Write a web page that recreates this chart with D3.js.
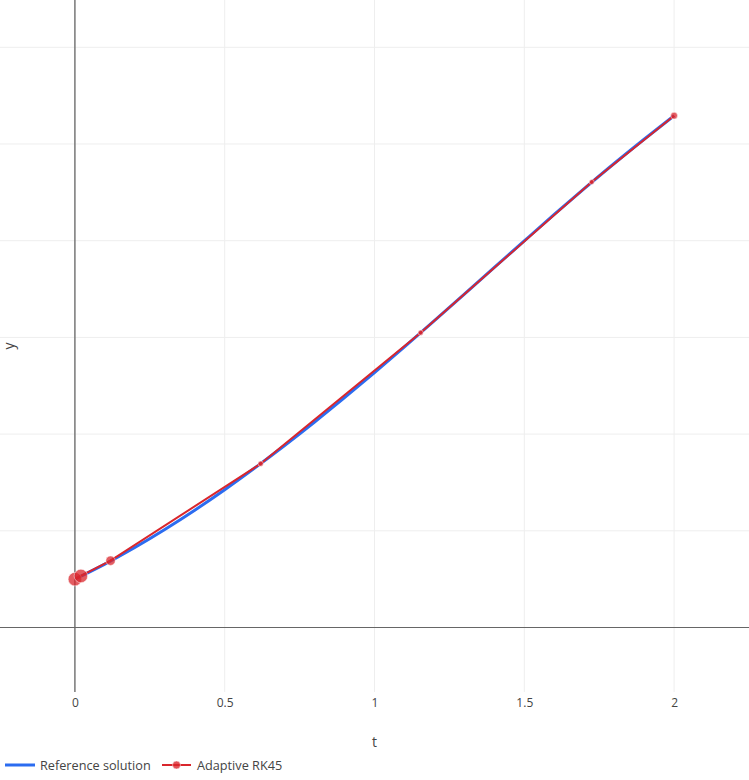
<!DOCTYPE html>
<html><head><meta charset="utf-8">
<script src="https://cdn.jsdelivr.net/npm/d3@7"></script>
<style>html,body{margin:0;padding:0;background:#fff}svg{display:block}text{font-family:"Open Sans",sans-serif}</style>
</head><body>
<script>
// Reference solution (dense)
const tRef = [0,0.1,0.2,0.3,0.4,0.5,0.6,0.7,0.8,0.9,1.0,1.1,1.2,1.3,1.4,1.5,1.6,1.7,1.8,1.9,2.0];
const yRef = [0.5,0.656,0.828,1.014,1.213,1.425,1.649,1.882,2.125,2.377,2.636,2.902,3.173,3.447,3.723,3.998,4.271,4.538,4.798,5.049,5.293];
// Adaptive RK45 accepted steps
const tRK = [0,0.02,0.119,0.62,1.154,1.725,2.0];
const yRK = [0.5,0.533,0.691,1.694,3.049,4.607,5.293];
const xTicks = [0,0.5,1,1.5,2];
const yTicks = [0,1,2,3,4,5,6];
const seriesNames = ["Reference solution","Adaptive RK45"];

const W = 749, H = 780;
const plot = {left:0, right:749, top:0, bottom:692};
const blue = "#2b6cf0", red = "#d9262c";

const svg = d3.select("body").append("svg").attr("width",W).attr("height",H);
const x = d3.scaleLinear().domain([-0.25,2.25]).range([plot.left,plot.right]);
const y = d3.scaleLinear().domain([-0.667,6.489]).range([plot.bottom,plot.top]);

// grid
const g = svg.append("g");
g.selectAll(".gx").data(xTicks.filter(d=>d!==0)).enter().append("line")
  .attr("x1",d=>x(d)).attr("x2",d=>x(d)).attr("y1",plot.top).attr("y2",plot.bottom)
  .attr("stroke","#eeeeee").attr("stroke-width",1);
g.selectAll(".gy").data(yTicks.filter(d=>d!==0)).enter().append("line")
  .attr("y1",d=>y(d)).attr("y2",d=>y(d)).attr("x1",plot.left).attr("x2",plot.right)
  .attr("stroke","#eeeeee").attr("stroke-width",1);
// zero lines
g.append("line").attr("x1",x(0)).attr("x2",x(0)).attr("y1",plot.top).attr("y2",plot.bottom)
  .attr("stroke","#777").attr("stroke-width",1.5);
g.append("line").attr("y1",y(0)).attr("y2",y(0)).attr("x1",plot.left).attr("x2",plot.right)
  .attr("stroke","#666").attr("stroke-width",1.2);

// x axis labels
const xAxis = d3.axisBottom(x).tickValues(xTicks).tickSize(0).tickPadding(6).tickFormat(d3.format("~g"));
const ax = svg.append("g").attr("transform",`translate(0,${plot.bottom})`).call(xAxis);
ax.select(".domain").remove();
ax.selectAll("text").attr("font-size",12).attr("fill","#444").attr("font-family","'Open Sans',sans-serif");

// titles
svg.append("text").attr("x",x(1)).attr("y",747).attr("text-anchor","middle")
  .attr("font-size",14).attr("fill","#444").text("t");
svg.append("text").attr("transform",`translate(14,${(plot.top+plot.bottom)/2}) rotate(-90)`)
  .attr("text-anchor","middle").attr("font-size",14).attr("fill","#444").text("y");

// reference line
const refData = tRef.map((t,i)=>[t,yRef[i]]);
const line = d3.line().x(d=>x(d[0])).y(d=>y(d[1])).curve(d3.curveMonotoneX);
svg.append("path").datum(refData).attr("d",line).attr("fill","none")
  .attr("stroke",blue).attr("stroke-width",3);

// RK45 line & markers
const rkData = tRK.map((t,i)=>{
  const h = i===0 ? tRK[1]-tRK[0] : t - tRK[i-1];
  return {t, y:yRK[i], h};
});
svg.append("path").datum(rkData).attr("d",d3.line().x(d=>x(d.t)).y(d=>y(d.y)))
  .attr("fill","none").attr("stroke",red).attr("stroke-width",2);
const sizeScale = d3.scaleLog().domain([0.02,0.57]).range([13.5,5]).clamp(true);
svg.selectAll(".mk").data(rkData).enter().append("circle")
  .attr("cx",d=>x(d.t)).attr("cy",d=>y(d.y)).attr("r",d=>sizeScale(d.h)/2)
  .attr("fill",red).attr("fill-opacity",0.75).attr("stroke","#fff").attr("stroke-width",0.5);

// legend
const lg = svg.append("g").attr("transform","translate(0,765)");
lg.append("line").attr("x1",5).attr("x2",35).attr("stroke",blue).attr("stroke-width",3);
lg.append("text").attr("x",40).attr("y",4.5).attr("font-size",12.7).attr("fill","#444").text(seriesNames[0]);
lg.append("line").attr("x1",162).attr("x2",191).attr("stroke",red).attr("stroke-width",2);
lg.append("circle").attr("cx",176.5).attr("r",4).attr("fill",red).attr("fill-opacity",0.8).attr("stroke","#fff").attr("stroke-width",0.5);
lg.append("text").attr("x",197).attr("y",4.5).attr("font-size",12.7).attr("fill","#444").text(seriesNames[1]);
</script>
</body></html>
